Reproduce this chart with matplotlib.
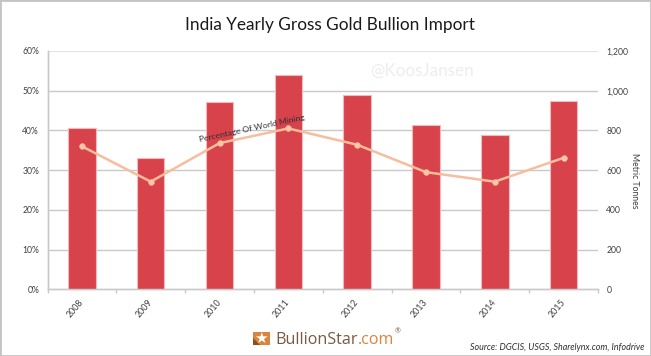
import matplotlib
matplotlib.use("Agg")
import matplotlib.pyplot as plt
from matplotlib.patches import Rectangle, Polygon

plt.rcParams['font.family'] = ['Lato', 'DejaVu Sans']

W, H = 651, 356

years = ['2008', '2009', '2010', '2011', '2012', '2013', '2014', '2015']
tonnes = [813, 663, 941, 1077, 978, 827, 778, 948]
world_pct = [36.0, 27.1, 36.8, 40.5, 36.4, 29.5, 27.1, 33.1]
pct_ticks = [0, 10, 20, 30, 40, 50, 60]
tonne_ticks = [0, 200, 400, 600, 800, 1000, 1200]

RED = '#d8434b'
LINE = '#f7bd9d'
GRID = '#c9c9c9'
TXT = '#404040'
BROWN = '#7a5a42'
ORANGE = '#d98440'


def fx(px):
    return px / W


def fy(py):
    return 1 - py / H


fig = plt.figure(figsize=(W / 100, H / 100), dpi=100, facecolor='white')

# plot area in pixels: x 47.5-598, y 51-289.3
ax = fig.add_axes([fx(47.5), fy(289.3), (598 - 47.5) / W, (289.3 - 51) / H])
ax2 = ax.twinx()

# bars use the right axis, the line has to sit on top of them
ax.set_zorder(2)
ax.patch.set_visible(False)
ax2.set_zorder(1)

x = list(range(len(years)))
ax2.bar(x, tonnes, width=0.4, color=RED, edgecolor='#f3b9bc', linewidth=0.8, zorder=3)
ax2.set_ylim(0, 1200)
ax2.set_yticks(tonne_ticks)
ax2.set_yticklabels([f'{t:,}' for t in tonne_ticks], fontsize=6.2, color=TXT)
ax2.tick_params(axis='y', length=0, pad=6)
ax2.grid(axis='y', color=GRID, linewidth=1, zorder=0)
lines = ax2.get_ygridlines()
lines[-1].set_color('#e4e4e4')
lines[-1].set_linewidth(1.6)
lines[0].set_visible(False)

ax.plot(x, world_pct, color=LINE, linewidth=1.8, marker='o', markersize=4.2,
        markerfacecolor='#f9c6a6', markeredgecolor='#f0b797', markeredgewidth=0.4, zorder=5)
ax.set_xlim(-0.5, len(years) - 0.5)
ax.set_ylim(0, 60)
ax.set_yticks(pct_ticks)
ax.set_yticklabels([f'{p}%' for p in pct_ticks], fontsize=6.2, color=TXT)
ax.tick_params(axis='y', length=0, pad=6)

# x ticks fall between the categories, labels stay under the bars
ax.set_xticks([i - 0.5 for i in range(len(years) + 1)])
ax.set_xticklabels([])
ax.tick_params(axis='x', which='major', length=3, color=GRID, width=1)
ax.set_xticks(x, minor=True)
ax.set_xticklabels(years, minor=True, fontsize=6.4, color=TXT, rotation=50, ha='right',
                   va='center', rotation_mode='anchor')
ax.tick_params(axis='x', which='minor', length=0, pad=8)

for a in (ax, ax2):
    a.spines['top'].set_visible(False)
    a.spines['right'].set_visible(False)
    a.spines['left'].set_color(GRID)
    a.spines['bottom'].set_color(GRID)
    a.spines['left'].set_linewidth(1)
    a.spines['bottom'].set_linewidth(1)

ax.text(1.70, 37.8, 'Percentage Of World Mining', fontsize=6.1, color='#303030', rotation=12,
        ha='left', va='center', rotation_mode='anchor', zorder=6)

fig.text(fx(329.5), fy(25), 'India Yearly Gross Gold Bullion Import', fontsize=12.4, color='#1a1a1a',
         ha='center', va='center')
fig.text(fx(422), fy(71), '@KoosJansen', fontsize=12.3, color='#ededed', ha='center', va='center', zorder=6)
fig.text(fx(635), fy(180.5), 'Metric Tonnes', fontsize=6.2, color=TXT, rotation=270, ha='center', va='center')
fig.text(fx(644), fy(347.5), 'Source: DGCIS, USGS, Sharelynx.com, Infodrive', fontsize=6.4, color='#303030',
         style='italic', ha='right', va='center')

# logo
fig.patches.append(Rectangle((fx(253), fy(345)), 17 / W, 13 / H, transform=fig.transFigure,
                             facecolor=ORANGE, edgecolor='none'))
fig.patches.append(Polygon([(fx(253), fy(345)), (fx(260), fy(345)), (fx(253), fy(338))],
                           transform=fig.transFigure, facecolor='#8a4f1d', edgecolor='none'))
fig.text(fx(261), fy(338.5), '★', fontsize=11, color='white', family='DejaVu Sans', ha='center', va='center')

# two colours on one line, so the second part starts where the first one ended
renderer = fig.canvas.get_renderer()
pos = 275
for part, col in [('BullionStar', BROWN), ('.com', ORANGE)]:
    t = fig.text(fx(pos), fy(343.5), part, fontsize=11.6, color=col, family='Open Sans', ha='left', va='baseline')
    pos = t.get_window_extent(renderer).x1 + 0.5
fig.text(fx(398), fy(331), '®', fontsize=5, color=BROWN, ha='center', va='center')

# outer frame of the image
fig.patches.append(Rectangle((0, 0), 1, 1, transform=fig.transFigure, facecolor='none',
                             edgecolor='#c4c4c4', linewidth=2))

fig.savefig('out.png', dpi=100)
